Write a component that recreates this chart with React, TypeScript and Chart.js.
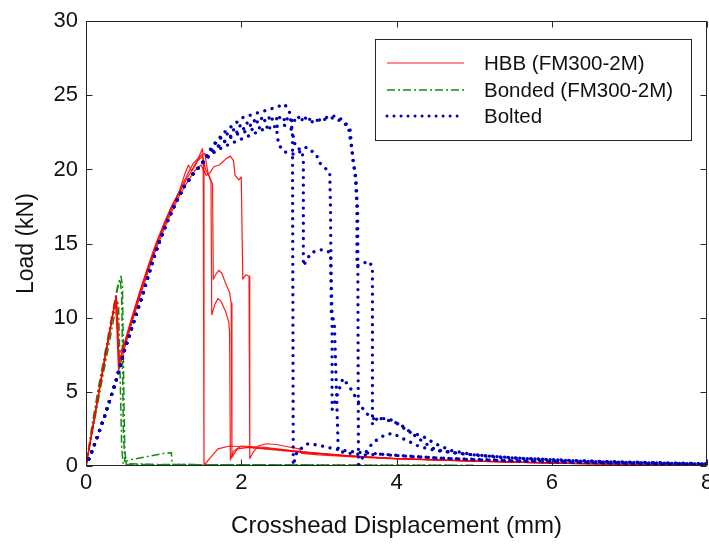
import React, { useEffect, useRef } from 'react';
import { Chart, registerables } from 'chart.js';

Chart.register(...registerables);

type Pt = [number, number];

const seriesNames = ['HBB (FM300-2M)', 'Bonded (FM300-2M)', 'Bolted'];
const xTickValues = [0, 2, 4, 6, 8];
const yTickValues = [0, 5, 10, 15, 20, 25, 30];
const xTitle = 'Crosshead Displacement (mm)';
const yTitle = 'Load (kN)';

// HBB (FM300-2M) specimens
const hbb1: Pt[] = [[0,0],[0.1,3],[0.2,6],[0.3,8.9],[0.36,10.7],[0.39,11.4],[0.41,9.8],[0.42,6.8],[0.5,8.3],[0.6,10.1],[0.7,11.8],[0.8,13.4],[0.9,14.9],[1.0,16.2],[1.1,17.4],[1.2,18.5],[1.3,19.6],[1.38,20.4],[1.45,20.8],[1.5,21.4],[1.51,20.6],[1.52,0.05],[1.6,0.55],[1.7,1.15],[1.85,1.35],[2.0,1.3],[2.4,1.1],[2.8,0.9],[3.2,0.75],[3.6,0.6],[4,0.5],[5,0.35],[6,0.22],[7,0.12],[8,0.05]];
const hbb2: Pt[] = [[0,0],[0.1,3.1],[0.2,6.1],[0.3,9.0],[0.37,11],[0.39,11.5],[0.41,8.5],[0.43,7.0],[0.5,8.4],[0.6,10.2],[0.7,11.9],[0.8,13.5],[0.9,15.0],[1.0,16.3],[1.1,17.5],[1.2,18.5],[1.28,19.8],[1.32,20.3],[1.36,19.9],[1.42,20.5],[1.5,20.9],[1.54,20.0],[1.58,19.6],[1.61,19.2],[1.62,10.2],[1.66,10.9],[1.7,11.3],[1.74,11.1],[1.8,10.4],[1.84,9.7],[1.85,9.0],[1.86,0.4],[1.9,1.0],[2.0,1.35],[2.3,1.25],[2.7,1.0],[3.0,0.85],[3.5,0.65],[4,0.5],[5,0.33],[6,0.2],[7,0.1],[8,0.05]];
const hbb3: Pt[] = [[0,0],[0.1,2.9],[0.2,5.9],[0.3,8.8],[0.38,11.2],[0.4,10.5],[0.42,7.5],[0.5,8.2],[0.6,10.0],[0.7,11.7],[0.8,13.3],[0.9,14.8],[1.0,16.1],[1.1,17.3],[1.2,18.4],[1.3,19.4],[1.4,20.2],[1.47,20.9],[1.53,21.1],[1.57,19.8],[1.6,19.4],[1.63,19.0],[1.64,12.6],[1.67,12.9],[1.71,13.2],[1.75,13.0],[1.8,12.3],[1.85,11.7],[1.87,11.0],[1.88,0.6],[1.95,1.15],[2.1,1.25],[2.5,1.1],[2.9,0.9],[3.3,0.72],[4,0.5],[5,0.32],[6,0.2],[7,0.1],[8,0.05]];
const hbb4: Pt[] = [[0,0],[0.1,3],[0.2,6],[0.3,8.9],[0.36,10.6],[0.38,11.0],[0.4,9],[0.42,6.4],[0.5,8.0],[0.6,9.8],[0.7,11.5],[0.8,13.1],[0.9,14.6],[1.0,15.9],[1.1,17.1],[1.2,18.2],[1.3,19.1],[1.4,19.9],[1.48,20.3],[1.55,19.6],[1.6,19.8],[1.65,20.2],[1.72,20.3],[1.8,20.7],[1.86,20.9],[1.9,20.6],[1.92,19.6],[1.97,19.3],[2.0,19.5],[2.02,12.6],[2.06,12.9],[2.1,12.8],[2.11,0.5],[2.15,0.9],[2.22,1.35],[2.32,1.5],[2.45,1.45],[2.6,1.3],[2.75,1.15],[2.78,0.85],[3.0,0.75],[3.5,0.6],[4,0.48],[5,0.32],[6,0.2],[7,0.1],[8,0.05]];

// Bonded (FM300-2M) specimens
const bonded1: Pt[] = [[0,0],[0.05,1.6],[0.1,3.2],[0.2,6.2],[0.3,9.0],[0.38,11.3],[0.43,12.5],[0.45,12.8],[0.47,12.2],[0.48,8],[0.49,4],[0.5,1.0],[0.52,0.15],[1,0.1],[2,0.08],[3,0.07],[4,0.05],[5,0.05]];
const bonded2: Pt[] = [[0,0],[0.07,2.5],[0.15,5.0],[0.25,7.8],[0.35,10.6],[0.41,12.2],[0.44,12.6],[0.46,11.5],[0.47,7],[0.48,2.5],[0.5,0.3],[0.6,0.45],[0.8,0.65],[1.0,0.85],[1.1,0.9],[1.11,0.1],[2,0.08],[3.5,0.06],[4.7,0.05]];
const bonded3: Pt[] = [[0,0],[0.1,2.8],[0.2,5.6],[0.3,8.3],[0.36,10],[0.4,11.2],[0.42,10.8],[0.44,6],[0.46,1.2],[0.48,0.1],[1.5,0.08],[3,0.06]];

// Bolted specimens (shared elastic rise, then individual failure paths)
const boltedRise: Pt[] = [[0,0],[0.1,1.3],[0.23,3.2],[0.39,5.8],[0.49,7.7],[0.62,9.8],[0.75,11.9],[0.84,13.5],[0.95,15.2],[1.04,16.4],[1.15,17.7],[1.26,18.8],[1.38,19.7],[1.48,20.3]];
const bolted1: Pt[] = [[1.63,21.6],[1.8,22.6],[2.02,23.5],[2.2,23.8],[2.33,24.0],[2.45,24.2],[2.56,24.4],[2.62,23.9],[2.66,22.5],[2.67,0.05],[2.72,1.0],[2.86,1.5],[3.0,1.4],[3.2,1.15],[3.45,0.95],[3.7,0.85],[4.0,0.7],[4.5,0.55],[5,0.42],[6,0.27],[7,0.17],[8,0.12]];
const bolted2: Pt[] = [[1.6,21.0],[1.76,21.5],[2.07,22.2],[2.28,22.7],[2.45,22.9],[2.55,23.0],[2.65,22.7],[2.7,21.5],[2.78,21.3],[2.8,20.6],[2.8,13.5],[2.9,14.4],[3.05,14.6],[3.15,14.4],[3.17,10],[3.17,3.8],[3.25,5.0],[3.31,5.9],[3.4,5.3],[3.5,4.4],[3.6,3.6],[3.7,3.2],[3.8,3.2],[3.95,3.0],[4.05,2.8],[4.2,2.2],[4.35,1.6],[4.5,1.1],[4.8,0.85],[5.3,0.6],[6,0.4],[7,0.25],[8,0.15]];
const bolted3: Pt[] = [[1.7,22.0],[2.0,23.0],[2.3,23.5],[2.5,23.4],[2.65,23.3],[2.78,23.6],[2.92,23.2],[3.05,23.4],[3.14,23.6],[3.23,23.6],[3.31,23.3],[3.4,22.8],[3.44,20.6],[3.48,19.3],[3.5,17],[3.51,0.1],[3.6,0.9],[3.7,1.6],[3.85,2.1],[3.95,2.2],[4.1,1.8],[4.3,1.3],[4.5,1.05],[4.8,0.85],[5.5,0.55],[6.5,0.32],[8,0.15]];
const bolted4: Pt[] = [[1.65,21.3],[1.9,22.4],[2.2,23.2],[2.5,23.5],[2.7,23.3],[2.85,23.4],[3.0,23.3],[3.2,23.5],[3.3,23.2],[3.38,22.9],[3.42,21.5],[3.47,19.5],[3.49,17.5],[3.49,13.5],[3.58,13.7],[3.65,13.8],[3.69,13.4],[3.69,2.8],[3.75,3.2],[3.9,3.2],[4.03,2.8],[4.16,2.3],[4.34,2.0],[4.5,1.5],[4.7,1.05],[5,0.75],[5.5,0.55],[6.5,0.3],[8,0.13]];
const bolted5: Pt[] = [[1.6,21.2],[1.9,22.3],[2.2,22.8],[2.45,22.9],[2.48,21.7],[2.55,21.2],[2.7,21.0],[2.84,21.5],[2.97,21.0],[3.0,20.5],[3.14,19.8],[3.15,17.3],[3.16,10.4],[3.2,9.6],[3.23,4.5],[3.25,1.0],[3.4,0.85],[3.6,0.75],[3.8,0.8],[4,0.72],[4.5,0.55],[5,0.45],[6,0.3],[7,0.2],[8,0.12]];

const RED = 'rgba(255,0,0,0.9)';
const GREEN = 'rgb(20,140,20)';
const BLUE = 'rgb(0,0,185)';
const FONT = "'Liberation Sans', Arial, Helvetica, sans-serif";

const styles = [
  { borderColor: RED, borderWidth: 1.2, borderDash: [] as number[], borderCapStyle: 'butt' },
  { borderColor: GREEN, borderWidth: 1.5, borderDash: [8, 3, 2, 3], borderCapStyle: 'butt' },
  { borderColor: BLUE, borderWidth: 3.3, borderDash: [0.01, 7.6], borderCapStyle: 'round' },
];

const toXY = (pts: Pt[]) => pts.map(([x, y]) => ({ x, y }));

const framePlugin = {
  id: 'matlabFrame',
  afterDatasetsDraw(chart: any) {
    const { ctx, chartArea, scales } = chart;
    const L = Math.round(chartArea.left) + 0.5;
    const R = Math.round(chartArea.right) - 0.5;
    const T = Math.round(chartArea.top) + 0.5;
    const B = Math.round(chartArea.bottom) - 0.5;
    ctx.save();
    ctx.strokeStyle = '#262626';
    ctx.lineWidth = 1;
    ctx.setLineDash([]);
    ctx.strokeRect(L, T, R - L, B - T);
    const tl = 6;
    ctx.beginPath();
    scales.x.ticks.forEach((t: any) => {
      const px = Math.round(scales.x.getPixelForValue(t.value)) + 0.5;
      ctx.moveTo(px, B); ctx.lineTo(px, B - tl);
      ctx.moveTo(px, T); ctx.lineTo(px, T + tl);
    });
    scales.y.ticks.forEach((t: any) => {
      const py = Math.round(scales.y.getPixelForValue(t.value)) + 0.5;
      ctx.moveTo(L, py); ctx.lineTo(L + tl, py);
      ctx.moveTo(R, py); ctx.lineTo(R - tl, py);
    });
    ctx.stroke();
    ctx.restore();
  },
};

const legendPlugin = {
  id: 'boxLegend',
  afterDraw(chart: any) {
    const { ctx } = chart;
    const bx = 375.5, by = 39.5, bw = 316, bh = 101;
    ctx.save();
    ctx.fillStyle = '#ffffff';
    ctx.fillRect(bx, by, bw, bh);
    ctx.strokeStyle = '#262626';
    ctx.lineWidth = 1;
    ctx.setLineDash([]);
    ctx.strokeRect(bx, by, bw, bh);
    const rows = [63, 90, 116];
    seriesNames.forEach((name, i) => {
      const s = styles[i];
      ctx.beginPath();
      ctx.strokeStyle = s.borderColor;
      ctx.lineWidth = i === 2 ? 3 : s.borderWidth;
      ctx.lineCap = s.borderCapStyle;
      ctx.setLineDash(i === 2 ? [0.01, 7] : s.borderDash);
      ctx.moveTo(387, rows[i]);
      ctx.lineTo(464, rows[i]);
      ctx.stroke();
      ctx.setLineDash([]);
      ctx.fillStyle = '#111';
      ctx.font = `20.5px ${FONT}`;
      ctx.textAlign = 'left';
      ctx.textBaseline = 'middle';
      ctx.fillText(name, 484, rows[i] + 1);
    });
    ctx.restore();
  },
};

export default function App() {
  const ref = useRef<HTMLCanvasElement | null>(null);

  useEffect(() => {
    if (!ref.current) return;
    const groups: [number, Pt[]][] = [
      [2, boltedRise.concat(bolted1)],
      [2, boltedRise.concat(bolted2)],
      [2, boltedRise.concat(bolted3)],
      [2, boltedRise.concat(bolted4)],
      [2, boltedRise.concat(bolted5)],
      [0, hbb1],
      [0, hbb2],
      [0, hbb3],
      [0, hbb4],
      [1, bonded1],
      [1, bonded2],
      [1, bonded3],
    ];
    const datasets = groups.map(([g, pts]) => ({
      label: seriesNames[g],
      data: toXY(pts),
      borderColor: styles[g].borderColor,
      borderWidth: styles[g].borderWidth,
      borderDash: styles[g].borderDash,
      borderCapStyle: styles[g].borderCapStyle as any,
      borderJoinStyle: 'round' as any,
      pointRadius: 0,
      tension: 0,
      fill: false,
      showLine: true,
    }));

    const chart = new Chart(ref.current, {
      type: 'line',
      data: { datasets },
      options: {
        animation: false,
        responsive: false,
        devicePixelRatio: 1,
        layout: { padding: { left: 0, right: 33, top: 18, bottom: 0 } },
        plugins: { legend: { display: false }, tooltip: { enabled: false } },
        scales: {
          x: {
            type: 'linear',
            min: 0,
            max: 8,
            afterBuildTicks: (s: any) => { s.ticks = xTickValues.map((v) => ({ value: v })); },
            afterFit: (s: any) => { s.height = 78; },
            grid: { display: false, drawTicks: false },
            border: { display: false },
            ticks: { color: '#111', font: { family: FONT, size: 22 }, padding: 4, maxRotation: 0 },
            title: { display: true, text: xTitle, color: '#111', font: { family: FONT, size: 24 }, padding: { top: 0, bottom: 3 } },
          },
          y: {
            type: 'linear',
            min: 0,
            max: 30,
            afterBuildTicks: (s: any) => { s.ticks = yTickValues.map((v) => ({ value: v })); },
            afterFit: (s: any) => { s.width = 86; },
            grid: { display: false, drawTicks: false },
            border: { display: false },
            ticks: { color: '#111', font: { family: FONT, size: 22 }, padding: 8 },
            title: { display: true, text: yTitle, color: '#111', font: { family: FONT, size: 23 }, padding: { top: 13, bottom: 0 } },
          },
        },
      },
      plugins: [framePlugin, legendPlugin],
    });
    return () => chart.destroy();
  }, []);

  return (
    <div style={{ position: 'fixed', left: 0, top: 0, width: 709, height: 544, overflow: 'hidden', background: '#fff' }}>
      <canvas ref={ref} width={740} height={544} style={{ width: 740, height: 544, display: 'block' }} />
    </div>
  );
}
